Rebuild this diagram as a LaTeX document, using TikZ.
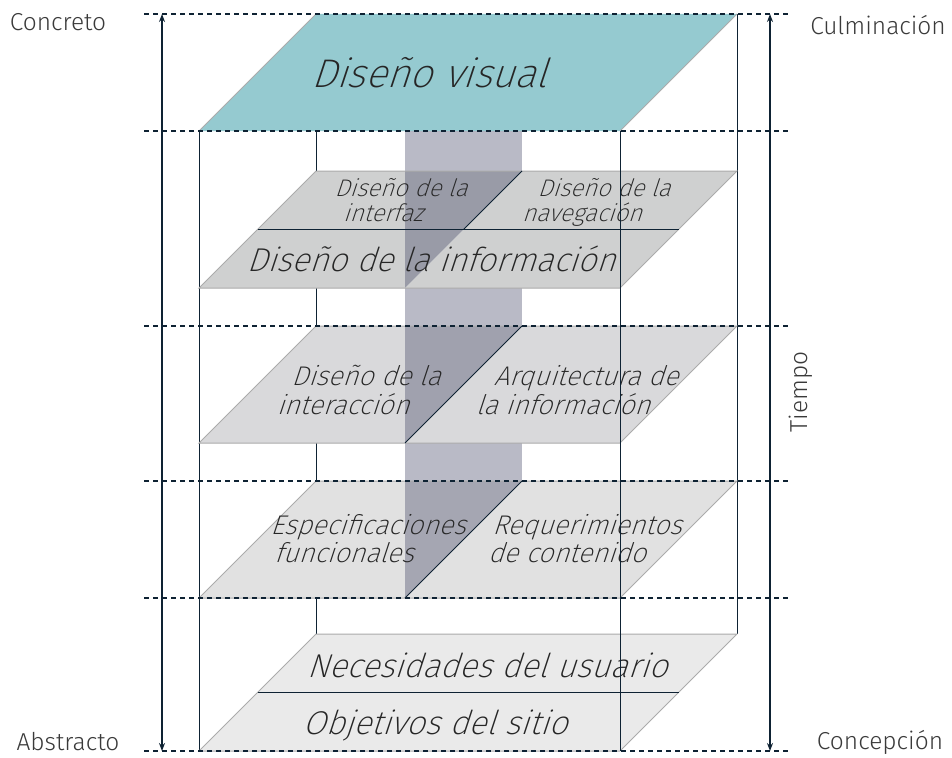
\documentclass[tikz,border=0pt]{standalone}
\usepackage{fontspec}
\setmainfont{Fira Sans}[UprightFont=* Light, ItalicFont=* Light Italic]
\newfontfamily\pf{Fira Sans}[UprightFont=* ExtraLight, FakeSlant=0.33]
\usetikzlibrary{arrows.meta}
\definecolor{cNavy}{HTML}{0E2233}
\definecolor{cVisual}{HTML}{95CAD0}
\definecolor{cEdge}{HTML}{ABABAB}
\definecolor{cLtwo}{HTML}{CFD0D0}
\definecolor{cLthree}{HTML}{D9D9DB}
\definecolor{cLfour}{HTML}{E1E1E1}
\definecolor{cLfive}{HTML}{EAEAEA}
\definecolor{cBand}{HTML}{323558}
\definecolor{cText}{HTML}{262626}
\definecolor{cLabel}{HTML}{3A3A3A}
\begin{document}
\begin{tikzpicture}[x=1pt,y=-1pt,
  guide/.style={draw=cNavy,line width=1.4pt,dash pattern=on 5pt off 4pt},
  frameline/.style={draw=cNavy,line width=1pt},
  darkline/.style={draw=cNavy,line width=0.9pt},
  planeedge/.style={draw=cEdge,line width=1pt},
  axisarrow/.style={draw=cNavy,line width=2.4pt,{Stealth[length=8pt,width=6pt]}-{Stealth[length=8pt,width=6pt]}},
  txt/.style={anchor=base,inner sep=0pt,text=cText},
  hugetxt/.style={txt,font=\pf\fontsize{40}{42}\selectfont},
  bigtxt/.style={txt,font=\pf\fontsize{33}{35}\selectfont},
  midtxt/.style={txt,font=\pf\fontsize{27}{28}\selectfont},
  smalltxt/.style={txt,font=\pf\fontsize{24}{25}\selectfont},
  sidelabel/.style={inner sep=0pt,font=\fontsize{24.5}{26}\selectfont,text=cLabel}
]
\useasboundingbox (0,0) rectangle (952,757);

% frame verticals behind planes
\draw[frameline] (199,131) -- (199,751);
\draw[frameline] (316,131) -- (316,634);
\draw[frameline] (737,14) -- (737,634);

% top plane
\fill[cVisual] (199,131) -- (620,131) -- (737,14) -- (316,14) -- cycle;
\draw[planeedge] (199,131) -- (316,14) (620,131) -- (737,14);

% left pieces
\fill[cLtwo]   (199,288) -- (405,288) -- (522,171) -- (316,171) -- cycle;
\fill[cLthree] (199,443) -- (405,443) -- (522,326) -- (316,326) -- cycle;
\fill[cLfour]  (199,598) -- (405,598) -- (522,481) -- (316,481) -- cycle;

% translucent band
\fill[cBand,opacity=0.34] (405,131) rectangle (522,598);

% right pieces
\fill[cLtwo]   (405,288) -- (620,288) -- (737,171) -- (522,171) -- cycle;
\fill[cLthree] (405,443) -- (620,443) -- (737,326) -- (522,326) -- cycle;
\fill[cLfour]  (405,598) -- (620,598) -- (737,481) -- (522,481) -- cycle;
% bottom plane
\fill[cLfive]  (199,751) -- (620,751) -- (737,634) -- (316,634) -- cycle;

% plane outlines
\draw[planeedge] (199,288) -- (620,288) -- (737,171) -- (316,171) -- cycle;
\draw[planeedge] (199,443) -- (620,443) -- (737,326) -- (316,326) -- cycle;
\draw[planeedge] (199,598) -- (620,598) -- (737,481) -- (316,481) -- cycle;
\draw[planeedge] (199,751) -- (620,751) -- (737,634) -- (316,634) -- cycle;

% dark separators
\draw[darkline] (257.5,229.5) -- (678.5,229.5);
\draw[darkline] (522,171) -- (463.5,229.5);
\draw[darkline] (522,326) -- (405,443);
\draw[darkline] (522,481) -- (405,598);
\draw[darkline] (257.5,692.5) -- (678.5,692.5);

% texts
\node[hugetxt] (visual) at (429,88) {Diseño visual};
\node[smalltxt] (interfazA) at (401,196) {Diseño de la};
\node[smalltxt] (interfazB) at (383,221) {interfaz};
\node[smalltxt] (navegA) at (604,196) {Diseño de la};
\node[smalltxt] (navegB) at (582,221) {navegación};
\node[bigtxt] (info) at (431,271) {Diseño de la información};
\node[midtxt] (interacA) at (366,385) {Diseño de la};
\node[midtxt] (interacB) at (343,414) {interacción};
\node[midtxt] (arquiA) at (586,385) {Arquitectura de};
\node[midtxt] (arquiB) at (563,414) {la información};
\node[midtxt] (especA) at (368,534) {Especificaciones};
\node[midtxt] (especB) at (344,562) {funcionales};
\node[midtxt] (requerA) at (587,534) {Requerimientos};
\node[midtxt] (requerB) at (567,562) {de contenido};
\node[bigtxt] (necesid) at (487,677) {Necesidades del usuario};
\node[bigtxt] (objet) at (435,734) {Objetivos del sitio};

% front vertical
\draw[frameline] (620,131) -- (620,751);

% guide lines
\foreach \yy in {14,131,326,481,598,751} \draw[guide] (144,\yy) -- (790,\yy);

% axes
\coordinate (lt) at (162,14); \coordinate (lb) at (162,751);
\coordinate (rt) at (770,14); \coordinate (rb) at (770,751);
\draw[axisarrow] (lb) -- (lt);
\draw[axisarrow] (rb) -- (rt);

% side labels
\node[sidelabel] (concreto) at (58,22) {Concreto};
\node[sidelabel] (culmin) at (878,25) {Culminación};
\node[sidelabel] (abstr) at (68,742) {Abstracto};
\node[sidelabel] (concep) at (880,742) {Concepción};
\node[sidelabel,rotate=90] (tiempo) at (801,392) {Tiempo};
\end{tikzpicture}
\end{document}
